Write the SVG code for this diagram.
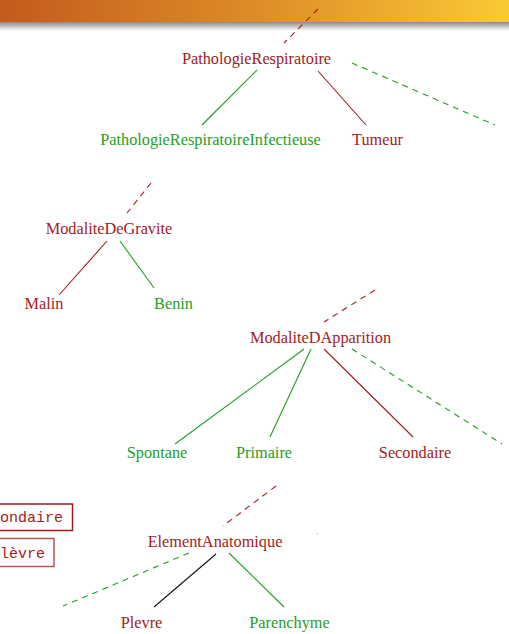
<svg xmlns="http://www.w3.org/2000/svg" width="509" height="634" viewBox="0 0 509 634">
<defs>
<linearGradient id="hdr" x1="0" y1="0" x2="1" y2="0">
<stop offset="0" stop-color="#c45a1c"/>
<stop offset="0.5" stop-color="#dd8c28"/>
<stop offset="1" stop-color="#fbc935"/>
</linearGradient>
<linearGradient id="shd" x1="0" y1="0" x2="0" y2="1">
<stop offset="0" stop-color="#8a8a8a"/>
<stop offset="1" stop-color="#ffffff"/>
</linearGradient>
<style>
text{font-family:"Liberation Serif","Times New Roman",serif;font-size:16.3px;text-anchor:middle}
.r{fill:#a01c1c}
.g{fill:#1f9e1f}
.lr{stroke:#a01c1c;stroke-width:1.1;fill:none}
.lg{stroke:#1f9e1f;stroke-width:1.1;fill:none}
.lk{stroke:#111;stroke-width:1.1;fill:none}
.d{stroke-dasharray:6 5}
.box{fill:#fff;stroke:#a01c1c;stroke-width:1.5}
.mono{font-family:"Liberation Mono","Courier New",monospace;font-size:15px;text-anchor:start;fill:#a01c1c}
</style>
</defs>
<rect x="0" y="0" width="509" height="22" fill="url(#hdr)"/>
<rect x="0" y="22" width="509" height="9" fill="url(#shd)"/>
<g id="connectors">
<line class="lr d" x1="318" y1="9" x2="284" y2="43"/>
<line class="lg d" x1="352" y1="63" x2="495" y2="125"/>
<line class="lg" x1="257" y1="70" x2="202" y2="125"/>
<line class="lr" x1="318" y1="71" x2="366" y2="125"/>
<line class="lr d" x1="151" y1="183" x2="127" y2="213"/>
<line class="lr" x1="107" y1="241" x2="59" y2="295"/>
<line class="lg" x1="120" y1="241" x2="154" y2="288"/>
<line class="lr d" x1="375" y1="290" x2="324" y2="322"/>
<line class="lg" x1="304" y1="349" x2="175" y2="444"/>
<line class="lg" x1="311" y1="349" x2="270" y2="437"/>
<line class="lr" x1="324" y1="349" x2="413" y2="437"/>
<line class="lg d" x1="352" y1="349" x2="502" y2="444"/>
<line class="lr d" x1="276" y1="486" x2="223" y2="526"/>
<line class="lg d" x1="189" y1="553" x2="63" y2="606"/>
<line class="lk" x1="216" y1="554" x2="154" y2="607"/>
<line class="lg" x1="229" y1="553" x2="284" y2="607"/>
</g>
<g id="PathologieRespiratoire"><text class="r" x="256.5" y="64">PathologieRespiratoire</text></g>
<g id="PathologieRespiratoireInfectieuse"><text class="g" x="210.5" y="145">PathologieRespiratoireInfectieuse</text></g>
<g id="Tumeur"><text class="r" x="377.5" y="145">Tumeur</text></g>
<g id="ModaliteDeGravite"><text class="r" x="109" y="234">ModaliteDeGravite</text></g>
<g id="Malin"><text class="r" x="44" y="309">Malin</text></g>
<g id="Benin"><text class="g" x="173.5" y="309">Benin</text></g>
<g id="ModaliteDApparition"><text class="r" x="320.5" y="343">ModaliteDApparition</text></g>
<g id="Spontane"><text class="g" x="157" y="458">Spontane</text></g>
<g id="Primaire"><text class="g" x="264" y="458">Primaire</text></g>
<g id="Secondaire"><text class="r" x="415" y="458">Secondaire</text></g>
<g id="box1"><rect class="box" x="-5" y="504" width="77.5" height="26.5"/><text class="mono" x="0" y="522">ondaire</text></g>
<g id="box2"><rect class="box" x="-5" y="538.5" width="59" height="28" stroke-opacity="0.75"/><text class="mono" x="0" y="558">lèvre</text></g>
<g id="ElementAnatomique"><text class="r" x="215" y="547">ElementAnatomique</text></g>
<g id="Plevre"><text class="r" x="141.5" y="628">Plevre</text></g>
<g id="Parenchyme"><text class="g" x="289.5" y="628">Parenchyme</text></g>
<rect x="317" y="533" width="1" height="1" fill="#aaa"/>
</svg>
